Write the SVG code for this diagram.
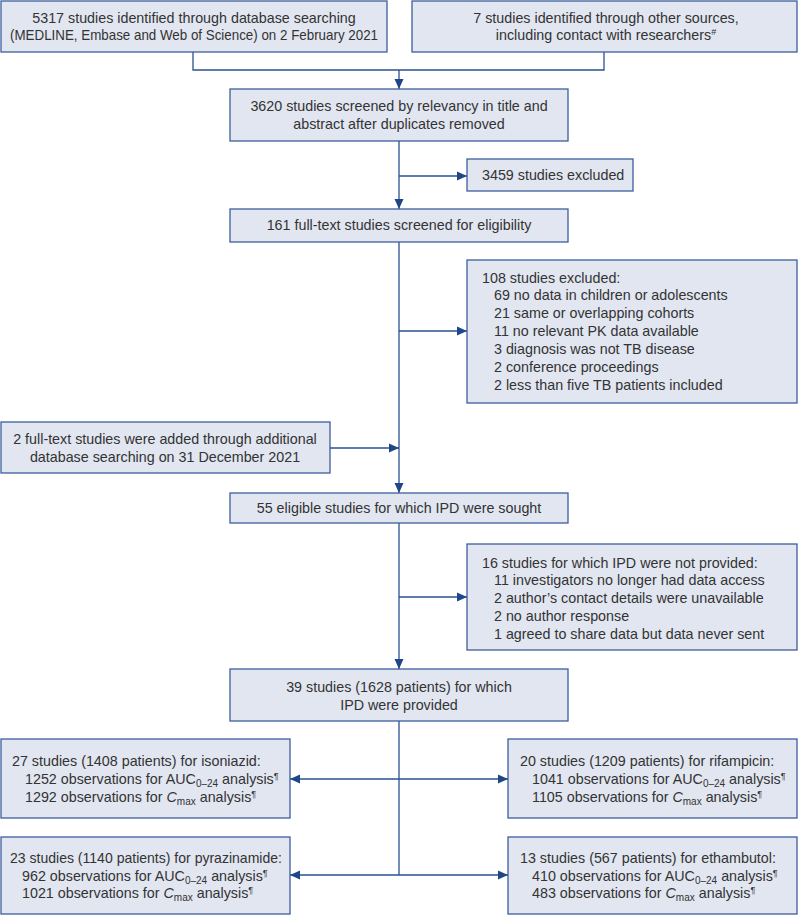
<svg xmlns="http://www.w3.org/2000/svg" width="798" height="915" viewBox="0 0 798 915">
<defs>
<style>
.box{fill:#e1e6f1;stroke:#3c5f9c;stroke-width:1.3}
.ln{fill:none;stroke:#2b5193;stroke-width:1.3}
text{font-family:"Liberation Sans",Arial,sans-serif;font-size:14.3px;fill:#333}
.c{text-anchor:middle}
.sm{font-size:10px}
.sup{font-size:9px}
</style>
<marker id="ah" markerWidth="10" markerHeight="10" refX="10" refY="5" orient="auto" markerUnits="userSpaceOnUse">
<path d="M0,0.5 L10,5 L0,9.5 Z" fill="#1f4788"/>
</marker>
</defs>
<rect width="798" height="915" fill="#fff"/>
<g id="connectors">
<polyline class="ln" points="193,52 193,70 604,70 604,52"/>
<line class="ln" x1="399" y1="70" x2="399" y2="89" marker-end="url(#ah)"/>
<line class="ln" x1="399" y1="141" x2="399" y2="209" marker-end="url(#ah)"/>
<line class="ln" x1="399" y1="176" x2="467" y2="176" marker-end="url(#ah)"/>
<line class="ln" x1="399" y1="242" x2="399" y2="493" marker-end="url(#ah)"/>
<line class="ln" x1="399" y1="331" x2="467" y2="331" marker-end="url(#ah)"/>
<line class="ln" x1="330" y1="448" x2="399" y2="448" marker-end="url(#ah)"/>
<line class="ln" x1="399" y1="523" x2="399" y2="669" marker-end="url(#ah)"/>
<line class="ln" x1="399" y1="597" x2="467" y2="597" marker-end="url(#ah)"/>
<line class="ln" x1="399" y1="721" x2="399" y2="875"/>
<line class="ln" x1="399" y1="779" x2="290" y2="779" marker-end="url(#ah)"/>
<line class="ln" x1="399" y1="779" x2="508" y2="779" marker-end="url(#ah)"/>
<line class="ln" x1="399" y1="875" x2="290" y2="875" marker-end="url(#ah)"/>
<line class="ln" x1="399" y1="875" x2="508" y2="875" marker-end="url(#ah)"/>
</g>
<g id="n1">
<rect class="box" x="1" y="1" width="386" height="51"/>
<text class="c" x="194" y="23">5317 studies identified through database searching</text>
<text class="c" x="194" y="40" textLength="368" lengthAdjust="spacingAndGlyphs">(MEDLINE, Embase and Web of Science) on 2 February 2021</text>
</g>
<g id="n2">
<rect class="box" x="412" y="1" width="385" height="51"/>
<text class="c" x="606" y="23">7 studies identified through other sources,</text>
<text class="c" x="606" y="40">including contact with researchers<tspan class="sup" dy="-5">#</tspan></text>
</g>
<g id="n3">
<rect class="box" x="230" y="89" width="338" height="52"/>
<text class="c" x="399" y="111">3620 studies screened by relevancy in title and</text>
<text class="c" x="399" y="129">abstract after duplicates removed</text>
</g>
<g id="n4">
<rect class="box" x="467" y="159" width="166" height="32"/>
<text x="482" y="180">3459 studies excluded</text>
</g>
<g id="n5">
<rect class="box" x="230" y="209" width="338" height="33"/>
<text class="c" x="399" y="230">161 full-text studies screened for eligibility</text>
</g>
<g id="n6">
<rect class="box" x="467" y="260" width="330" height="143"/>
<text x="482" y="283">108 studies excluded:</text>
<text x="494" y="300">69 no data in children or adolescents</text>
<text x="494" y="318">21 same or overlapping cohorts</text>
<text x="494" y="336">11 no relevant PK data available</text>
<text x="494" y="354">3 diagnosis was not TB disease</text>
<text x="494" y="372">2 conference proceedings</text>
<text x="494" y="390">2 less than five TB patients included</text>
</g>
<g id="n7">
<rect class="box" x="1" y="422" width="329" height="51"/>
<text class="c" x="165" y="444">2 full-text studies were added through additional</text>
<text class="c" x="165" y="462">database searching on 31 December 2021</text>
</g>
<g id="n8">
<rect class="box" x="230" y="493" width="338" height="30"/>
<text class="c" x="399" y="513">55 eligible studies for which IPD were sought</text>
</g>
<g id="n9">
<rect class="box" x="467" y="544" width="330" height="106"/>
<text x="482" y="568">16 studies for which IPD were not provided:</text>
<text x="494" y="585">11 investigators no longer had data access</text>
<text x="494" y="603">2 author’s contact details were unavailable</text>
<text x="494" y="621">2 no author response</text>
<text x="494" y="639">1 agreed to share data but data never sent</text>
</g>
<g id="n10">
<rect class="box" x="230" y="669" width="338" height="52"/>
<text class="c" x="399" y="692">39 studies (1628 patients) for which</text>
<text class="c" x="399" y="710">IPD were provided</text>
</g>
<g id="n11">
<rect class="box" x="1" y="739" width="289" height="79"/>
<text x="12" y="766">27 studies (1408 patients) for isoniazid:</text>
<text x="25" y="784">1252 observations for AUC<tspan class="sm" dy="3">0–24</tspan><tspan dy="-3"> analysis</tspan><tspan class="sup" dy="-5">¶</tspan></text>
<text x="25" y="802">1292 observations for <tspan font-style="italic">C</tspan><tspan class="sm" dy="3">max</tspan><tspan dy="-3"> analysis</tspan><tspan class="sup" dy="-5">¶</tspan></text>
</g>
<g id="n12">
<rect class="box" x="508" y="739" width="289" height="79"/>
<text x="520" y="766">20 studies (1209 patients) for rifampicin:</text>
<text x="532" y="784">1041 observations for AUC<tspan class="sm" dy="3">0–24</tspan><tspan dy="-3"> analysis</tspan><tspan class="sup" dy="-5">¶</tspan></text>
<text x="532" y="802">1105 observations for <tspan font-style="italic">C</tspan><tspan class="sm" dy="3">max</tspan><tspan dy="-3"> analysis</tspan><tspan class="sup" dy="-5">¶</tspan></text>
</g>
<g id="n13">
<rect class="box" x="1" y="837" width="289" height="77"/>
<text x="10" y="863" textLength="272" lengthAdjust="spacingAndGlyphs">23 studies (1140 patients) for pyrazinamide:</text>
<text x="22" y="881">962 observations for AUC<tspan class="sm" dy="3">0–24</tspan><tspan dy="-3"> analysis</tspan><tspan class="sup" dy="-5">¶</tspan></text>
<text x="22" y="898">1021 observations for <tspan font-style="italic">C</tspan><tspan class="sm" dy="3">max</tspan><tspan dy="-3"> analysis</tspan><tspan class="sup" dy="-5">¶</tspan></text>
</g>
<g id="n14">
<rect class="box" x="508" y="837" width="289" height="77"/>
<text x="520" y="863">13 studies (567 patients) for ethambutol:</text>
<text x="532" y="881">410 observations for AUC<tspan class="sm" dy="3">0–24</tspan><tspan dy="-3"> analysis</tspan><tspan class="sup" dy="-5">¶</tspan></text>
<text x="532" y="898">483 observations for <tspan font-style="italic">C</tspan><tspan class="sm" dy="3">max</tspan><tspan dy="-3"> analysis</tspan><tspan class="sup" dy="-5">¶</tspan></text>
</g>
</svg>
